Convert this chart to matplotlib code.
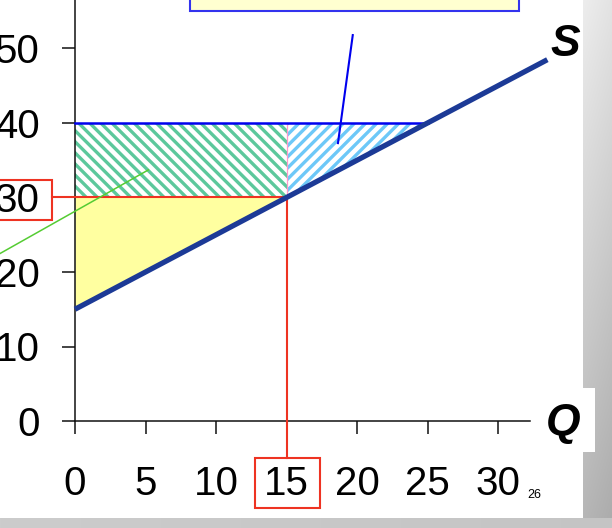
import numpy as np
import matplotlib
matplotlib.use('Agg')
from matplotlib import pyplot as plt
from matplotlib.patches import Rectangle, Polygon

# chart values
q_ticks = [0, 5, 10, 15, 20, 25, 30]
p_ticks = [0, 10, 20, 30, 40, 50]
supply_q = [0, 33.5]
supply_p = [15, 48.5]
p_intercept = 15
p_old = 30
p_new = 40
q_old = 15
q_new = 25
green_pointer_q = [-5.3, 5.2]
green_pointer_p = [22.5, 33.7]
blue_pointer_q = [19.7, 18.65]
blue_pointer_p = [51.8, 37.3]

plt.rcParams['font.family'] = ['Liberation Sans', 'DejaVu Sans']
plt.rcParams['hatch.linewidth'] = 2.4

W, H = 612, 528
fig = plt.figure(figsize=(W / 100, H / 100), dpi=100)
fig.patch.set_facecolor('white')

# slide background (grey border at right and bottom)
bg = fig.add_axes([0, 0, 1, 1], zorder=-5)
yy, xx = np.mgrid[0:H, 0:W]
shade = 0.93 - 0.22 * (yy / H) - 0.04 * ((xx - 583) / 29.0)
img = np.ones((H, W))
grey = (xx >= 583) | (yy >= 518)
img[grey] = shade[grey]
img[(yy >= 518)] = 0.80 - 0.03 * (xx[(yy >= 518)] / W)
img[(xx >= 583) & (xx < 595) & (yy >= 388) & (yy < 452)] = 1.0
bg.imshow(np.dstack([img, img, img]), extent=(0, W, H, 0), aspect='auto', interpolation='bilinear')
bg.set_xlim(0, W)
bg.set_ylim(H, 0)
bg.axis('off')

# main chart: data coordinates mapped to pixel positions of the slide
x0_px, px_per_q = 75, 14.1
y0_px, px_per_p = 421, 7.45
ax = fig.add_axes([0, 0, 583 / W, 1])
ax.patch.set_alpha(0)
ax.set_xlim(-x0_px / px_per_q, (583 - x0_px) / px_per_q)
ax.set_ylim((y0_px - H) / px_per_p, y0_px / px_per_p)

# producer surplus at the old price
ax.fill_between([0, q_old], [p_intercept, p_old], [p_old, p_old], color='#ffffa0', lw=0, zorder=1)
# gain on units already sold
ax.add_patch(Rectangle((0, p_old), q_old, p_new - p_old, facecolor='none', edgecolor='#5cc89c',
                       hatch='\\\\\\', lw=0, zorder=1))
# gain on the extra units
ax.add_patch(Polygon([(q_old, p_old), (q_old, p_new), (q_new, p_new)], closed=True, facecolor='none',
                     edgecolor='#6cc8f8', hatch='///', lw=0, zorder=1))

ax.plot([q_old, q_old], [p_old, p_new], color='#ff99cc', lw=0.9, zorder=2)
ax.plot([0, q_new], [p_new, p_new], color='#0000ee', lw=1.8, zorder=3)
ax.plot([-1.63, q_old], [p_old, p_old], color='#ee3322', lw=1.5, zorder=3, clip_on=False)
ax.plot([q_old, q_old], [p_old, -4.97], color='#ee3322', lw=1.5, zorder=3, clip_on=False)

ax.plot(supply_q, supply_p, color='#1c3a96', lw=3.8, solid_capstyle='butt', zorder=4)

ax.plot(green_pointer_q, green_pointer_p, color='#55cc33', lw=1.1, zorder=5, clip_on=False)
ax.plot(blue_pointer_q, blue_pointer_p, color='#0000ee', lw=1.5, zorder=5)

# red boxes round the old price and quantity
ax.add_patch(Rectangle((-6.0, 26.98), 6.0 - 1.63, 5.37, fill=False, edgecolor='#ee3322', lw=1.5,
                       clip_on=False, zorder=6))
ax.add_patch(Rectangle((12.77, -11.68), 4.61, 6.71, fill=False, edgecolor='#ee3322', lw=1.5,
                       clip_on=False, zorder=6))

# callout box at the top (text cut off by the slide)
ax.add_patch(Rectangle((8.16, 55.0), 23.3, 8, facecolor='#ffffd0', edgecolor='#3333ee', lw=1.5,
                       clip_on=False, zorder=6))

ax.spines[['top', 'right']].set_visible(False)
ax.spines['left'].set_position(('data', 0))
ax.spines['bottom'].set_position(('data', 0))
ax.spines['left'].set_bounds(0, 60)
ax.spines['bottom'].set_bounds(0, 32.3)
for side in ['left', 'bottom']:
    ax.spines[side].set_linewidth(1.1)
    ax.spines[side].set_color('#111111')

ax.set_xticks(q_ticks)
ax.set_yticks(p_ticks)
ax.tick_params(axis='both', direction='out', length=9.5, width=1.1, color='#111111', labelsize=29)
ax.tick_params(axis='x', pad=22)
ax.tick_params(axis='y', pad=16)

ax.text(34.75, 50.5, 'S', fontsize=32, fontweight='bold', style='italic', ha='center', va='center')
ax.text(34.6, -0.3, 'Q', fontsize=32, fontweight='bold', style='italic', ha='center', va='center',
        clip_on=False)
ax.text(32.6, -9.9, '26', fontsize=9, ha='center', va='center')

fig.savefig('out.png', dpi=100)
